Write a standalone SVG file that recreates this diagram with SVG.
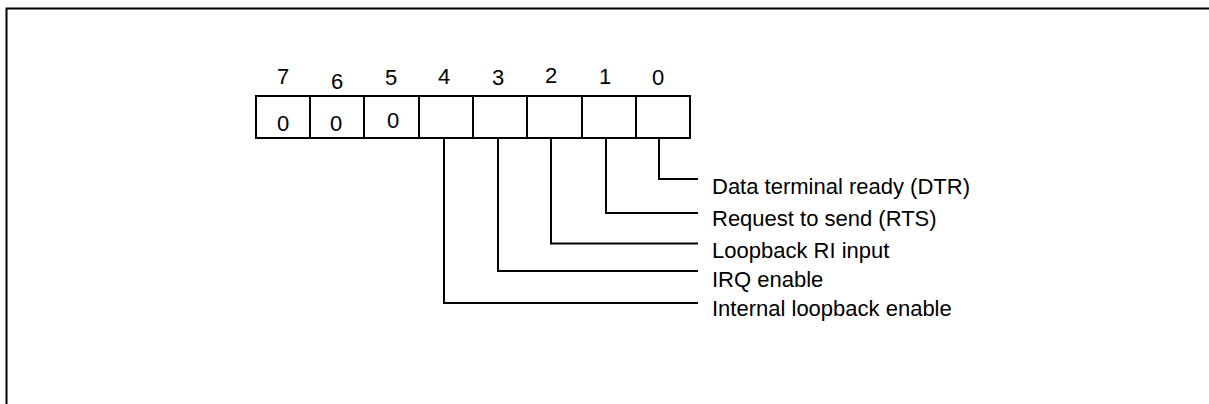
<svg xmlns="http://www.w3.org/2000/svg" width="1209" height="404" viewBox="0 0 1209 404">
<style>
.t{font-family:"Liberation Sans",Arial,sans-serif;font-size:22px;fill:#000}
.c{text-anchor:middle}
.ln{fill:none;stroke:#000;stroke-width:2}
.cell{fill:#fff;stroke:#000;stroke-width:2}
</style>
<rect x="0" y="0" width="1209" height="404" fill="#fff"/>
<path d="M6.5,404 V8.5 H1209" fill="none" stroke="#000" stroke-width="2"/>
<g id="register">
<rect class="cell" x="256" y="96" width="54" height="42"/>
<rect class="cell" x="310" y="96" width="54" height="42"/>
<rect class="cell" x="364" y="96" width="55" height="42"/>
<rect class="cell" x="419" y="96" width="54" height="42"/>
<rect class="cell" x="473" y="96" width="54" height="42"/>
<rect class="cell" x="527" y="96" width="55" height="42"/>
<rect class="cell" x="582" y="96" width="54" height="42"/>
<rect class="cell" x="636" y="96" width="54" height="42"/>
<text class="t c" x="283" y="131">0</text>
<text class="t c" x="336" y="131">0</text>
<text class="t c" x="393" y="128">0</text>
</g>
<g id="bitnumbers">
<text class="t c" x="283" y="84">7</text>
<text class="t c" x="337" y="89">6</text>
<text class="t c" x="391" y="85">5</text>
<text class="t c" x="444" y="84">4</text>
<text class="t c" x="498" y="85">3</text>
<text class="t c" x="551" y="83">2</text>
<text class="t c" x="605" y="84">1</text>
<text class="t c" x="658" y="85">0</text>
</g>
<g id="connectors">
<path class="ln" d="M659,138 V179 H698"/>
<path class="ln" d="M606,138 V213 H698"/>
<path class="ln" d="M551,138 V243.5 H698"/>
<path class="ln" d="M498,138 V271 H698"/>
<path class="ln" d="M444,138 V303 H698"/>
</g>
<g id="labels">
<text class="t" x="712" y="194">Data terminal ready (DTR)</text>
<text class="t" x="712" y="226">Request to send (RTS)</text>
<text class="t" x="712" y="258">Loopback RI input</text>
<text class="t" x="712" y="287">IRQ enable</text>
<text class="t" x="712" y="316">Internal loopback enable</text>
</g>
</svg>
